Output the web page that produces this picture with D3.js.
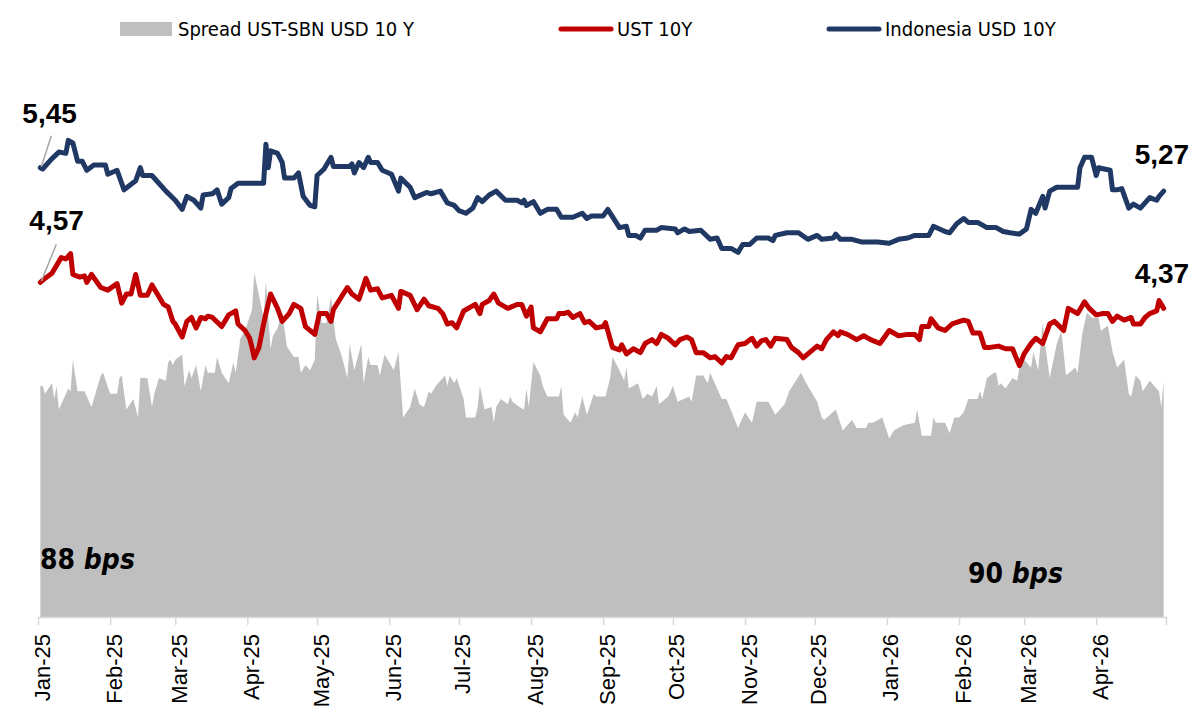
<!DOCTYPE html>
<html>
<head>
<meta charset="utf-8">
<script src="https://cdn.jsdelivr.net/npm/d3@7"></script>
<style>
  html, body { margin: 0; padding: 0; background: #fff; }
</style>
</head>
<body>
<div id="chart"></div>
<script>
// Spread UST-SBN USD 10Y (bps)
const spreadBps = [
  ["25-01-02",88],["25-01-03",88],["25-01-04",85],["25-01-07",89],["25-01-08",83],["25-01-09",88],["25-01-10",79],
  ["25-01-14",87],["25-01-15",86],["25-01-16",98],["25-01-18",86],["25-01-21",86],["25-01-24",80],["25-01-28",92],
  ["25-01-29",93],["25-02-01",85],["25-02-04",85],["25-02-05",91],["25-02-06",92],["25-02-08",79],["25-02-11",83],
  ["25-02-13",76],["25-02-14",91],["25-02-17",91],["25-02-19",80],["25-02-20",85],["25-02-22",91],["25-02-25",90],
  ["25-02-26",97],["25-02-27",98],["25-02-28",96],["25-03-01",98],["25-03-04",100],["25-03-05",88],["25-03-07",94],
  ["25-03-08",91],["25-03-10",96],["25-03-12",86],["25-03-14",96],["25-03-15",93],["25-03-18",93],["25-03-19",99],
  ["25-03-21",93],["25-03-24",89],["25-03-26",97],["25-03-27",93],["25-03-29",106],["25-03-31",109],["25-04-03",117],
  ["25-04-04",131],["25-04-08",114],["25-04-09",128],["25-04-11",102],["25-04-12",107],["25-04-14",110],["25-04-16",116],
  ["25-04-18",103],["25-04-21",99],["25-04-23",99],["25-04-24",93],["25-04-26",96],["25-04-28",94],["25-04-30",98],
  ["25-05-01",123],["25-05-03",112],["25-05-05",112],["25-05-07",122],["25-05-09",106],["25-05-11",101],["25-05-12",98],
  ["25-05-14",91],["25-05-15",104],["25-05-17",94],["25-05-20",104],["25-05-21",89],["25-05-23",99],["25-05-24",96],
  ["25-05-27",96],["25-05-28",92],["25-05-30",100],["25-06-03",94],["25-06-05",101],["25-06-07",76],["25-06-10",80],
  ["25-06-12",87],["25-06-14",81],["25-06-16",80],["25-06-18",86],["25-06-19",85],["25-06-21",88],["25-06-25",92],
  ["25-06-26",88],["25-06-27",92],["25-06-29",89],["25-06-30",91],["25-07-03",83],["25-07-04",76],["25-07-08",76],
  ["25-07-09",80],["25-07-10",88],["25-07-12",79],["25-07-15",80],["25-07-16",74],["25-07-17",80],["25-07-19",83],
  ["25-07-22",81],["25-07-23",84],["25-07-24",82],["25-07-27",80],["25-07-29",79],["25-07-30",87],["25-07-31",80],
  ["25-08-02",97],["25-08-05",92],["25-08-06",88],["25-08-08",84],["25-08-13",84],["25-08-14",88],["25-08-15",77],
  ["25-08-18",74],["25-08-20",78],["25-08-21",76],["25-08-23",84],["25-08-25",77],["25-08-28",85],["25-08-29",84],
  ["25-09-02",84],["25-09-04",91],["25-09-05",99],["25-09-08",94],["25-09-10",90],["25-09-11",95],["25-09-12",87],
  ["25-09-16",89],["25-09-18",83],["25-09-20",85],["25-09-22",84],["25-09-24",88],["25-09-25",81],["25-09-29",84],
  ["25-10-01",88],["25-10-03",82],["25-10-08",84],["25-10-09",82],["25-10-11",92],["25-10-14",92],["25-10-16",89],
  ["25-10-17",93],["25-10-19",89],["25-10-22",83],["25-10-24",83],["25-10-29",72],["25-11-01",78],["25-11-04",74],
  ["25-11-06",82],["25-11-11",82],["25-11-14",77],["25-11-18",81],["25-11-20",86],["25-11-25",93],["25-11-28",88],
  ["25-12-02",82],["25-12-04",76],["25-12-05",75],["25-12-10",79],["25-12-13",71],["25-12-17",75],["25-12-19",72],
  ["25-12-23",72],["25-12-24",74],["25-12-26",74],["25-12-30",76],["26-01-02",68],["26-01-04",71],["26-01-08",73],
  ["26-01-13",74],["26-01-14",79],["26-01-16",69],["26-01-20",69],["26-01-21",76],["26-01-22",74],["26-01-26",74],
  ["26-01-28",70],["26-01-30",76],["26-02-01",76],["26-02-03",78],["26-02-05",83],["26-02-07",83],["26-02-09",83],
  ["26-02-10",86],["26-02-11",83],["26-02-13",91],["26-02-16",93],["26-02-17",93],["26-02-18",88],["26-02-19",89],
  ["26-02-21",87],["26-02-24",91],["26-02-26",90],["26-02-27",95],["26-03-01",98],["26-03-04",95],["26-03-05",101],
  ["26-03-07",94],["26-03-09",112],["26-03-10",104],["26-03-12",91],["26-03-15",104],["26-03-17",109],["26-03-19",92],
  ["26-03-23",95],["26-03-24",93],["26-03-26",108],["26-03-28",116],["26-03-30",114],["26-04-02",114],["26-04-03",109],
  ["26-04-06",111],["26-04-08",101],["26-04-10",95],["26-04-13",98],["26-04-15",85],["26-04-16",84],["26-04-18",92],
  ["26-04-20",90],["26-04-21",86],["26-04-24",90],["26-04-26",88],["26-04-28",86],["26-04-29",80],["26-04-30",90]
];

// UST 10Y (%)
const ust10y = [
  ["25-01-02",4.57],["25-01-04",4.60],["25-01-07",4.64],["25-01-09",4.70],["25-01-11",4.76],["25-01-13",4.75],
  ["25-01-15",4.79],["25-01-16",4.63],["25-01-19",4.61],["25-01-21",4.62],["25-01-22",4.57],["25-01-24",4.63],
  ["25-01-28",4.53],["25-01-31",4.51],["25-02-04",4.56],["25-02-06",4.41],["25-02-08",4.48],["25-02-10",4.48],
  ["25-02-12",4.63],["25-02-14",4.47],["25-02-17",4.47],["25-02-19",4.55],["25-02-21",4.49],["25-02-24",4.40],
  ["25-02-26",4.38],["25-02-28",4.27],["25-03-01",4.25],["25-03-04",4.15],["25-03-06",4.27],["25-03-08",4.30],
  ["25-03-10",4.22],["25-03-12",4.30],["25-03-14",4.29],["25-03-15",4.31],["25-03-17",4.30],["25-03-21",4.23],
  ["25-03-24",4.32],["25-03-27",4.35],["25-03-28",4.25],["25-03-31",4.20],["25-04-02",4.14],["25-04-03",4.07],
  ["25-04-04",3.99],["25-04-06",4.07],["25-04-08",4.25],["25-04-09",4.33],["25-04-11",4.48],["25-04-14",4.37],
  ["25-04-16",4.27],["25-04-19",4.33],["25-04-21",4.40],["25-04-24",4.37],["25-04-26",4.23],["25-04-30",4.17],
  ["25-05-02",4.33],["25-05-05",4.33],["25-05-07",4.27],["25-05-08",4.36],["25-05-14",4.53],["25-05-16",4.48],
  ["25-05-19",4.44],["25-05-22",4.60],["25-05-24",4.51],["25-05-27",4.52],["25-05-29",4.45],["25-06-02",4.47],
  ["25-06-05",4.37],["25-06-06",4.50],["25-06-10",4.47],["25-06-13",4.36],["25-06-16",4.44],["25-06-18",4.39],
  ["25-06-22",4.37],["25-06-24",4.33],["25-06-26",4.25],["25-06-28",4.26],["25-06-30",4.22],["25-07-03",4.35],
  ["25-07-08",4.40],["25-07-10",4.33],["25-07-11",4.40],["25-07-14",4.43],["25-07-16",4.48],["25-07-18",4.41],
  ["25-07-22",4.37],["25-07-26",4.40],["25-07-28",4.40],["25-07-30",4.31],["25-08-01",4.38],["25-08-02",4.22],
  ["25-08-05",4.19],["25-08-08",4.29],["25-08-12",4.29],["25-08-13",4.33],["25-08-15",4.33],["25-08-17",4.34],
  ["25-08-19",4.30],["25-08-22",4.33],["25-08-24",4.26],["25-08-26",4.27],["25-08-29",4.22],["25-09-01",4.23],
  ["25-09-02",4.26],["25-09-05",4.07],["25-09-08",4.05],["25-09-09",4.09],["25-09-11",4.02],["25-09-14",4.06],
  ["25-09-17",4.03],["25-09-19",4.10],["25-09-22",4.13],["25-09-24",4.10],["25-09-26",4.17],["25-09-29",4.14],
  ["25-10-02",4.09],["25-10-04",4.13],["25-10-07",4.15],["25-10-09",4.13],["25-10-11",4.03],["25-10-14",4.03],
  ["25-10-17",3.99],["25-10-19",4.00],["25-10-22",3.95],["25-10-24",4.00],["25-10-26",3.99],["25-10-29",4.09],
  ["25-11-01",4.10],["25-11-04",4.14],["25-11-06",4.08],["25-11-08",4.12],["25-11-10",4.13],["25-11-12",4.08],
  ["25-11-14",4.14],["25-11-19",4.13],["25-11-21",4.07],["25-11-24",4.03],["25-11-26",3.99],["25-12-02",4.08],
  ["25-12-04",4.06],["25-12-06",4.13],["25-12-09",4.19],["25-12-11",4.16],["25-12-12",4.19],["25-12-15",4.17],
  ["25-12-19",4.13],["25-12-22",4.16],["25-12-25",4.13],["25-12-29",4.10],["26-01-02",4.20],["26-01-06",4.16],
  ["26-01-10",4.17],["26-01-13",4.17],["26-01-15",4.13],["26-01-16",4.23],["26-01-19",4.23],["26-01-20",4.29],
  ["26-01-23",4.22],["26-01-26",4.20],["26-01-29",4.25],["26-02-03",4.28],["26-02-05",4.27],["26-02-07",4.18],
  ["26-02-10",4.18],["26-02-12",4.07],["26-02-14",4.07],["26-02-18",4.08],["26-02-21",4.06],["26-02-24",4.06],
  ["26-02-27",3.93],["26-03-01",4.02],["26-03-04",4.10],["26-03-06",4.14],["26-03-09",4.10],["26-03-12",4.25],
  ["26-03-14",4.27],["26-03-18",4.20],["26-03-20",4.37],["26-03-24",4.33],["26-03-27",4.42],["26-03-29",4.37],
  ["26-04-01",4.32],["26-04-04",4.33],["26-04-06",4.33],["26-04-08",4.27],["26-04-10",4.31],["26-04-13",4.28],
  ["26-04-16",4.30],["26-04-17",4.25],["26-04-20",4.25],["26-04-22",4.30],["26-04-24",4.33],["26-04-27",4.35],
  ["26-04-28",4.43],["26-04-30",4.37]
];

// Indonesia USD 10Y (%)
const indoUsd10y = [
  ["25-01-02",5.45],["25-01-03",5.44],["25-01-07",5.52],["25-01-10",5.57],["25-01-13",5.56],["25-01-14",5.66],
  ["25-01-16",5.64],["25-01-18",5.50],["25-01-20",5.50],["25-01-22",5.43],["25-01-25",5.47],["25-01-30",5.47],
  ["25-01-31",5.40],["25-02-04",5.43],["25-02-07",5.28],["25-02-12",5.35],["25-02-14",5.45],["25-02-15",5.39],
  ["25-02-19",5.39],["25-02-21",5.35],["25-02-25",5.27],["25-03-01",5.20],["25-03-04",5.13],["25-03-06",5.23],
  ["25-03-09",5.20],["25-03-12",5.14],["25-03-13",5.24],["25-03-17",5.25],["25-03-19",5.28],["25-03-21",5.17],
  ["25-03-24",5.22],["25-03-25",5.29],["25-03-28",5.33],["25-04-08",5.33],["25-04-09",5.63],["25-04-10",5.45],
  ["25-04-11",5.58],["25-04-14",5.56],["25-04-16",5.49],["25-04-17",5.37],["25-04-21",5.37],["25-04-23",5.41],
  ["25-04-25",5.23],["25-04-28",5.16],["25-04-30",5.15],["25-05-01",5.39],["25-05-04",5.44],["25-05-07",5.53],
  ["25-05-08",5.46],["25-05-15",5.46],["25-05-16",5.48],["25-05-17",5.41],["25-05-19",5.49],["25-05-21",5.45],
  ["25-05-23",5.53],["25-05-24",5.49],["25-05-27",5.49],["25-05-29",5.43],["25-06-02",5.40],["25-06-05",5.27],
  ["25-06-06",5.37],["25-06-10",5.30],["25-06-12",5.22],["25-06-17",5.26],["25-06-19",5.25],["25-06-23",5.27],
  ["25-06-26",5.18],["25-06-29",5.16],["25-07-01",5.12],["25-07-04",5.10],["25-07-07",5.14],["25-07-09",5.22],
  ["25-07-11",5.19],["25-07-14",5.24],["25-07-17",5.27],["25-07-21",5.20],["25-07-26",5.20],["25-07-28",5.18],
  ["25-07-29",5.20],["25-07-30",5.16],["25-08-02",5.19],["25-08-05",5.10],["25-08-08",5.13],["25-08-12",5.13],
  ["25-08-14",5.07],["25-08-19",5.07],["25-08-23",5.10],["25-08-25",5.06],["25-08-27",5.08],["25-09-01",5.08],
  ["25-09-03",5.13],["25-09-08",4.99],["25-09-11",5.00],["25-09-12",4.93],["25-09-15",4.93],["25-09-17",4.91],
  ["25-09-19",4.97],["25-09-24",4.97],["25-09-26",4.99],["25-10-02",4.98],["25-10-03",4.95],["25-10-06",4.98],
  ["25-10-08",4.96],["25-10-13",4.97],["25-10-17",4.90],["25-10-20",4.91],["25-10-22",4.83],["25-10-26",4.83],
  ["25-10-29",4.80],["25-10-31",4.86],["25-11-03",4.86],["25-11-06",4.91],["25-11-11",4.91],["25-11-13",4.89],
  ["25-11-14",4.93],["25-11-19",4.95],["25-11-24",4.95],["25-11-28",4.90],["25-12-02",4.93],["25-12-04",4.90],
  ["25-12-09",4.91],["25-12-10",4.94],["25-12-12",4.90],["25-12-17",4.90],["25-12-21",4.88],["25-12-28",4.88],
  ["26-01-02",4.87],["26-01-06",4.90],["26-01-10",4.91],["26-01-13",4.93],["26-01-19",4.93],["26-01-21",5.00],
  ["26-01-26",4.96],["26-01-28",4.95],["26-01-31",5.02],["26-02-03",5.06],["26-02-05",5.03],["26-02-09",5.03],
  ["26-02-13",4.99],["26-02-17",4.99],["26-02-20",4.96],["26-02-23",4.95],["26-02-27",4.94],["26-03-02",4.98],
  ["26-03-04",5.13],["26-03-06",5.10],["26-03-09",5.23],["26-03-10",5.14],["26-03-12",5.27],["26-03-15",5.30],
  ["26-03-24",5.30],["26-03-25",5.45],["26-03-27",5.53],["26-03-30",5.53],["26-04-01",5.39],["26-04-02",5.45],
  ["26-04-07",5.43],["26-04-08",5.28],["26-04-10",5.28],["26-04-12",5.29],["26-04-15",5.14],["26-04-17",5.17],
  ["26-04-20",5.14],["26-04-24",5.22],["26-04-27",5.20],["26-04-28",5.23],["26-04-30",5.27]
];

const legendLabels = ["Spread UST-SBN USD 10 Y", "UST 10Y", "Indonesia USD 10Y"];
const firstValueLabels = ["5,45", "4,57"];
const lastValueLabels = ["5,27", "4,37"];
const spreadLabels = ["88", "90"];

const width = 1192;
const height = 713;
const grey = "#BFBFBF";
const red = "#C00000";
const navy = "#203864";

const parse = d3.timeParse("%y-%m-%d");
const toRows = arr => arr.map(d => ({ date: parse(d[0]), value: d[1] }));
const spread = toRows(spreadBps);
const ust = toRows(ust10y);
const indo = toRows(indoUsd10y);

const svg = d3.select("#chart").append("svg")
    .attr("width", width)
    .attr("height", height)
    .style("display", "block");

const xScale = d3.scaleTime()
    .domain([new Date(2025, 0, 1), new Date(2026, 4, 1)])
    .range([38, 1166]);
const yYield = d3.scaleLinear()
    .domain([2.0, 6.3])
    .range([617, 57]);
const ySpread = d3.scaleLinear()
    .domain([0, 213.3])
    .range([617, 57]);

// spread area in the back
const area = d3.area()
    .x(d => xScale(d.date))
    .y0(ySpread(0))
    .y1(d => ySpread(d.value));
svg.append("path")
    .datum(spread)
    .attr("d", area)
    .attr("fill", grey);

// x axis
const monthTicks = d3.timeMonth.range(new Date(2025, 0, 1), new Date(2026, 4, 2));
const xAxis = d3.axisBottom(xScale)
    .tickValues(monthTicks)
    .tickSize(8)
    .tickSizeOuter(0)
    .tickFormat((d, i) => i === monthTicks.length - 1 ? "" : d3.timeFormat("%b-%y")(d));

const gx = svg.append("g")
    .attr("transform", "translate(0,617)")
    .call(xAxis);
gx.select(".domain").attr("stroke", "#D9D9D9").attr("stroke-width", 1.5);
gx.selectAll(".tick line").attr("stroke", "#D9D9D9").attr("stroke-width", 1.5);
gx.selectAll(".tick text")
    .attr("x", 0)
    .attr("y", 0)
    .attr("dy", null)
    .attr("transform", "translate(11,17) rotate(-90)")
    .style("text-anchor", "end")
    .style("font-family", "'Liberation Sans', Arial, sans-serif")
    .style("font-size", "22px")
    .attr("fill", "#000");

// lines
const line = d3.line()
    .x(d => xScale(d.date))
    .y(d => yYield(d.value));

svg.append("path")
    .datum(ust)
    .attr("d", line)
    .attr("fill", "none")
    .attr("stroke", red)
    .attr("stroke-width", 5)
    .attr("stroke-linejoin", "round")
    .attr("stroke-linecap", "round");

svg.append("path")
    .datum(indo)
    .attr("d", line)
    .attr("fill", "none")
    .attr("stroke", navy)
    .attr("stroke-width", 5)
    .attr("stroke-linejoin", "round")
    .attr("stroke-linecap", "round");

// value labels at both ends
const valueFont = "'Liberation Sans', Arial, sans-serif";
const firsts = [indo[0], ust[0]];
const lasts = [indo[indo.length - 1], ust[ust.length - 1]];

firsts.forEach((d, i) => {
    const px = xScale(d.date);
    const py = yYield(d.value);
    svg.append("line")
        .attr("x1", px + 1).attr("y1", py - 1)
        .attr("x2", px + 11 + i * 5).attr("y2", py - 32 - i * 6)
        .attr("stroke", "#A6A6A6")
        .attr("stroke-width", 1.5);
    svg.append("text")
        .attr("x", px - 18 + i * 7)
        .attr("y", py - 45 - i * 7)
        .style("font-family", valueFont)
        .style("font-weight", "bold")
        .style("font-size", "28px")
        .text(firstValueLabels[i]);
});

lasts.forEach((d, i) => {
    svg.append("text")
        .attr("x", xScale(d.date) - 29)
        .attr("y", yYield(d.value) - 27 + i * 2)
        .style("font-family", valueFont)
        .style("font-weight", "bold")
        .style("font-size", "28px")
        .text(lastValueLabels[i]);
});

// spread labels
const bpsPos = [[40, 569], [968, 583]];
spreadLabels.forEach((t, i) => {
    const txt = svg.append("text")
        .attr("x", bpsPos[i][0])
        .attr("y", bpsPos[i][1])
        .style("font-family", "'DejaVu Sans Condensed', 'DejaVu Sans', sans-serif")
        .style("font-weight", "bold")
        .style("font-size", "28px")
        .attr("fill", "#000");
    txt.append("tspan").text(t + " ");
    txt.append("tspan").style("font-style", "italic").text("bps");
});

// legend
const legendFont = "'DejaVu Sans Condensed', 'DejaVu Sans', sans-serif";
const lg = svg.append("g");
lg.append("rect")
    .attr("x", 120).attr("y", 22)
    .attr("width", 52).attr("height", 14)
    .attr("fill", grey);
[[559, red], [827, navy]].forEach(s => {
    lg.append("line")
        .attr("x1", s[0] + 2).attr("x2", s[0] + 52)
        .attr("y1", 29).attr("y2", 29)
        .attr("stroke", s[1])
        .attr("stroke-width", 5)
        .attr("stroke-linecap", "round");
});
[178, 617, 885].forEach((lx, i) => {
    lg.append("text")
        .attr("x", lx)
        .attr("y", 36)
        .style("font-family", legendFont)
        .style("font-size", "20px")
        .attr("fill", "#000")
        .text(legendLabels[i]);
});
</script>
</body>
</html>
